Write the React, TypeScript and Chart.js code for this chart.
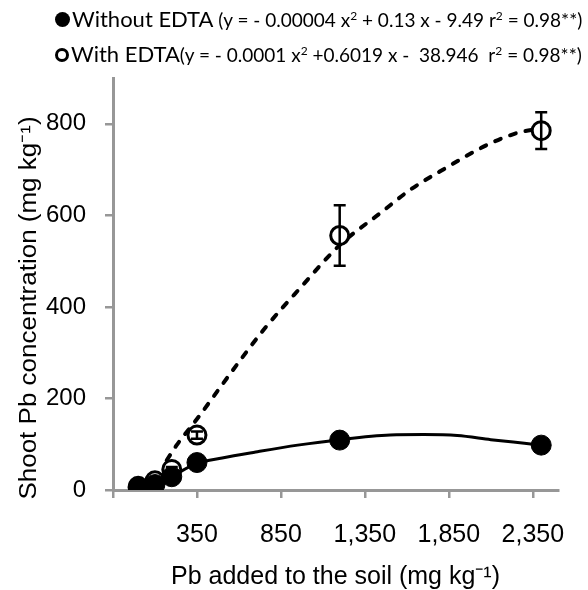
import React, { useEffect, useRef } from 'react';
import { Chart, registerables } from 'chart.js';
Chart.register(...registerables);

// Measured points (Pb added, mg kg-1)
const pbAdded = [0, 100, 200, 350, 1200, 2400];
const withoutEdta = [5, 12, 29, 60, 109, 98];
const withEdta = [8, 20, 45, 120, 556, 785];
const withEdtaErr = [2, 3, 5, 8, 66, 40];

// Fitted curves
const withoutFitX = [0, 100, 200, 350, 500, 700, 950, 1200, 1500, 1700, 1900, 2100, 2300, 2400];
const withoutFitY = [5, 14, 30, 58, 70, 83, 98, 110, 120, 121, 119, 110, 102, 98];
const withFitX = [170, 229, 350, 550, 747, 964, 1200, 1442, 1621, 1830, 2079, 2258, 2400];
const withFitY = [65, 98, 155, 255, 350, 441, 535, 605, 656, 703, 754, 780, 790];

const xTicks = [-150, 350, 850, 1350, 1850, 2350];
const yTicks = [0, 200, 400, 600, 800];

const X_TITLE = 'Pb added to the soil (mg kg\u207B\u00B9)';
const Y_TITLE = 'Shoot Pb concentration (mg kg\u207B\u00B9)';

const AXIS_GREY = '#979797';
const FONT = "'Liberation Sans', Arial, sans-serif";

const errorBars = {
  id: 'errorBars',
  afterDatasetDraw(chart: any, args: any) {
    if (args.index !== 1) return;
    const { ctx } = chart;
    const x = chart.scales.x;
    const y = chart.scales.y;
    ctx.save();
    ctx.strokeStyle = '#000';
    ctx.lineWidth = 2.5;
    pbAdded.forEach((px, i) => {
      const e = withEdtaErr[i];
      const cx = x.getPixelForValue(px);
      const yt = y.getPixelForValue(withEdta[i] + e);
      const yb = y.getPixelForValue(withEdta[i] - e);
      ctx.beginPath();
      ctx.moveTo(cx, yt);
      ctx.lineTo(cx, yb);
      ctx.moveTo(cx - 6, yt);
      ctx.lineTo(cx + 6, yt);
      ctx.moveTo(cx - 6, yb);
      ctx.lineTo(cx + 6, yb);
      ctx.stroke();
    });
    ctx.restore();
  },
};

const yTitle = {
  id: 'yTitle',
  afterDraw(chart: any) {
    const { ctx } = chart;
    ctx.save();
    ctx.translate(30, 308);
    ctx.rotate(-Math.PI / 2);
    ctx.scale(1.13, 1);
    ctx.font = `23px ${FONT}`;
    ctx.fillStyle = '#000';
    ctx.textAlign = 'center';
    ctx.textBaseline = 'middle';
    ctx.fillText(Y_TITLE, 0, 0);
    ctx.restore();
  },
};

export default function App() {
  const ref = useRef<HTMLCanvasElement | null>(null);

  useEffect(() => {
    document.body.style.margin = '0';
    const canvas = ref.current;
    if (!canvas) return;
    const chart = new Chart(canvas, {
      type: 'scatter',
      data: {
        datasets: [
          {
            label: 'Without EDTA',
            data: pbAdded.map((x, i) => ({ x, y: withoutEdta[i] })),
            pointRadius: 10,
            pointBackgroundColor: '#000',
            pointBorderColor: '#000',
            pointBorderWidth: 1,
            showLine: false,
          },
          {
            label: 'With EDTA',
            data: pbAdded.map((x, i) => ({ x, y: withEdta[i] })),
            pointRadius: 9,
            pointBackgroundColor: '#fff',
            pointBorderColor: '#000',
            pointBorderWidth: 3,
            showLine: false,
          },
          {
            label: 'Without EDTA fit',
            data: withoutFitX.map((x, i) => ({ x, y: withoutFitY[i] })),
            showLine: true,
            pointRadius: 0,
            borderColor: '#000',
            borderWidth: 3,
            cubicInterpolationMode: 'monotone',
          },
          {
            label: 'With EDTA fit',
            data: withFitX.map((x, i) => ({ x, y: withFitY[i] })),
            showLine: true,
            pointRadius: 0,
            borderColor: '#000',
            borderWidth: 4,
            borderDash: [6, 10],
            borderCapStyle: 'round',
            cubicInterpolationMode: 'monotone',
          },
        ],
      },
      options: {
        animation: false,
        responsive: false,
        layout: { padding: { top: 78, right: 30, left: 0, bottom: 0 } },
        plugins: { legend: { display: false }, tooltip: { enabled: false } },
        scales: {
          x: {
            type: 'linear',
            min: -150,
            max: 2500,
            afterBuildTicks: (s: any) => {
              s.ticks = xTicks.map((v) => ({ value: v }));
            },
            afterFit: (s: any) => {
              s.height = 100;
            },
            grid: { display: true, drawOnChartArea: false, drawTicks: true, tickLength: 8, color: AXIS_GREY, lineWidth: 2.5 },
            border: { color: AXIS_GREY, width: 3 },
            ticks: {
              padding: 22,
              color: '#000',
              maxRotation: 0,
              autoSkip: false,
              font: { family: FONT, size: 25 },
              callback: (v: any) => (v === -150 ? '' : Number(v).toLocaleString('en-US')),
            },
            title: {
              display: true,
              text: X_TITLE,
              color: '#000',
              font: { family: FONT, size: 25, lineHeight: 1 },
              padding: { top: 0, bottom: 0 },
            },
          },
          y: {
            type: 'linear',
            min: 0,
            max: 900,
            afterBuildTicks: (s: any) => {
              s.ticks = yTicks.map((v) => ({ value: v }));
            },
            afterFit: (s: any) => {
              s.width = 113;
            },
            grid: { display: true, drawOnChartArea: false, drawTicks: true, tickLength: 8, color: AXIS_GREY, lineWidth: 2.5 },
            border: { color: AXIS_GREY, width: 3 },
            ticks: {
              padding: 19,
              color: '#000',
              font: { family: FONT, size: 24 },
            },
          },
        },
      },
      plugins: [errorBars, yTitle],
    } as any);
    return () => chart.destroy();
  }, []);

  const big = { fontSize: 22 } as React.CSSProperties;
  const small = { fontSize: 19 } as React.CSSProperties;
  const sup = { fontSize: 12, verticalAlign: 'super', lineHeight: 0 } as React.CSSProperties;
  const row = {
    position: 'absolute',
    left: 55,
    display: 'flex',
    alignItems: 'baseline',
    whiteSpace: 'pre',
    fontFamily: "Lato, 'Open Sans', sans-serif",
    color: '#000',
    lineHeight: '26px',
  } as React.CSSProperties;

  return (
    <div style={{ position: 'relative', width: 588, height: 590 }}>
      <canvas ref={ref} width={588} height={590} style={{ display: 'block' }} />
      <div style={{ ...row, top: 6 }}>
        <span style={{ display: 'inline-block', width: 15, height: 15, borderRadius: '50%', background: '#000', marginRight: 2, alignSelf: 'center' }} />
        <span style={big}>Without EDTA</span>
        <span style={small}>
          {' (y = - 0.00004 x'}
          <span style={sup}>2</span>
          {' + 0.13 x - 9.49 r'}
          <span style={sup}>2</span>
          {' = 0.98**)'}
        </span>
      </div>
      <div style={{ ...row, top: 41 }}>
        <span style={{ display: 'inline-block', width: 8, height: 8, borderRadius: '50%', border: '3.5px solid #000', background: '#fff', marginRight: 2, alignSelf: 'center' }} />
        <span style={big}>With EDTA</span>
        <span style={small}>
          {'(y = - 0.0001 x'}
          <span style={sup}>2</span>
          {' +0.6019 x -  38.946  r'}
          <span style={sup}>2</span>
          {' = 0.98**)'}
        </span>
      </div>
    </div>
  );
}
